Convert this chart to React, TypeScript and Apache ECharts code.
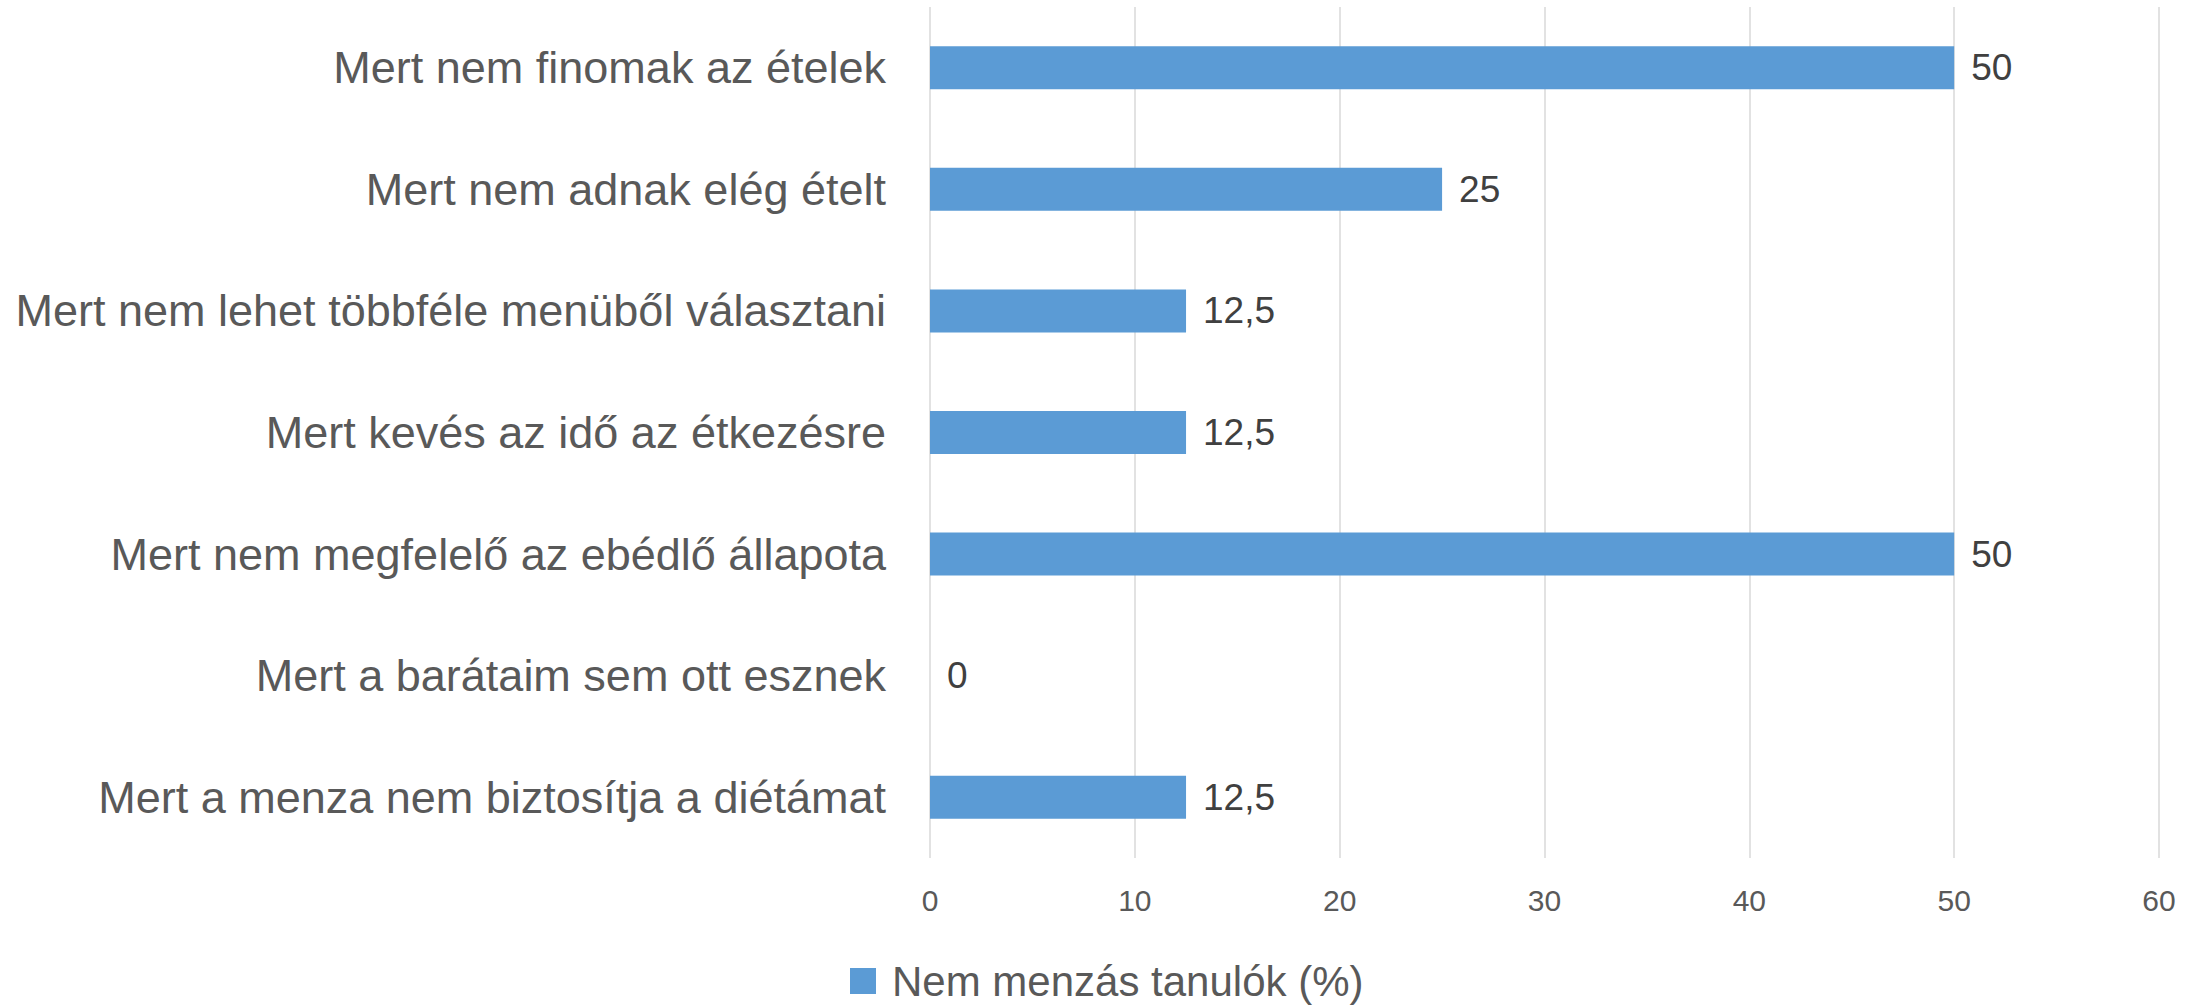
import React, { useEffect, useRef } from "react";
import * as echarts from "echarts";

const categories = [
  "Mert nem finomak az ételek",
  "Mert nem adnak elég ételt",
  "Mert nem lehet többféle menüből választani",
  "Mert kevés az idő az étkezésre",
  "Mert nem megfelelő az ebédlő állapota",
  "Mert a barátaim sem ott esznek",
  "Mert a menza nem biztosítja a diétámat",
];
const values = [50, 25, 12.5, 12.5, 50, 0, 12.5];
const seriesName = "Nem menzás tanulók (%)";
const xMin = 0;
const xMax = 60;
const xInterval = 10;

const FONT = "'Liberation Sans', Arial, sans-serif";

export default function App() {
  const ref = useRef<HTMLDivElement>(null);
  useEffect(() => {
    if (!ref.current) return;
    const chart = echarts.init(ref.current, null, { renderer: "svg" });
    chart.setOption({
      animation: false,
      backgroundColor: "#ffffff",
      textStyle: { fontFamily: FONT },
      grid: { left: 930, right: 44, top: 7, bottom: 148, containLabel: false },
      legend: {
        show: true,
        left: 850,
        top: 958,
        padding: 0,
        itemWidth: 26,
        itemHeight: 26,
        icon: "rect",
        textStyle: {
          fontFamily: FONT,
          fontSize: 42,
          lineHeight: 46,
          color: "#595959",
          padding: [0, 0, 0, 11],
        },
        data: [seriesName],
      },
      xAxis: {
        type: "value",
        min: xMin,
        max: xMax,
        interval: xInterval,
        axisLine: { show: false },
        axisTick: { show: false },
        splitLine: { show: true, lineStyle: { color: "#d9d9d9", width: 1.5 } },
        axisLabel: {
          fontFamily: FONT,
          fontSize: 30,
          color: "#595959",
          margin: 27,
        },
      },
      yAxis: {
        type: "category",
        inverse: true,
        data: categories,
        axisLine: { show: false },
        axisTick: { show: false },
        axisLabel: {
          fontFamily: FONT,
          fontSize: 45,
          color: "#595959",
          margin: 44,
        },
      },
      series: [
        {
          name: seriesName,
          type: "bar",
          data: values,
          barWidth: 43,
          itemStyle: { color: "#5B9BD5" },
          label: {
            show: true,
            position: "right",
            distance: 17,
            fontFamily: FONT,
            fontSize: 37,
            color: "#404040",
            formatter: (p: any) => String(p.value).replace(".", ","),
          },
        },
      ],
    });
    return () => chart.dispose();
  }, []);
  return (
    <div
      ref={ref}
      style={{ position: "absolute", left: 0, top: 0, width: 2203, height: 1006 }}
    />
  );
}
